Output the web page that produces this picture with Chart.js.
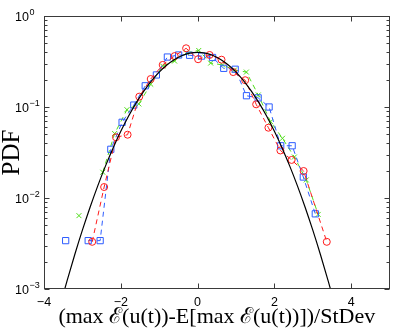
<!DOCTYPE html>
<html>
<head>
<meta charset="utf-8">
<script src="https://cdn.jsdelivr.net/npm/chart.js@4.4.1/dist/chart.umd.min.js"></script>
<style>
  html, body { margin: 0; padding: 0; background: #fff; }
  #wrap { width: 395px; height: 333px; }
</style>
</head>
<body>
<div id="wrap"><canvas id="pdfChart" width="395" height="333"></canvas></div>
<script>
// --- Data ---

const xTicks = [-4, -2, 0, 2, 4];
const xTickLabels = ['\u22124', '\u22122', '0', '2', '4'];
const yTicks = [0.001, 0.01, 0.1, 1];
const yTickExps = ['\u22123', '\u22122', '\u22121', '0'];

// red circles
const redX = [-2.745, -2.434, -2.125, -1.823, -1.519, -1.221, -0.909, -0.597, -0.299, 0.013,
              0.312, 0.623, 0.927, 1.239, 1.525, 1.844, 2.156, 2.449, 2.761, 3.364];
const redY = [0.0033, 0.0132, 0.0465, 0.0496, 0.130, 0.203, 0.290, 0.363, 0.442, 0.335,
              0.373, 0.331, 0.242, 0.197, 0.107, 0.0592, 0.0333, 0.0262, 0.0198, 0.0033];

// blue squares (null = empty bin, line is broken there)
const blueX = [-3.436, -3.14, -2.849, -2.538, -2.260, -1.966, -1.662, -1.364, -1.073, -0.787, -0.494,
               -0.208, 0.104, 0.390, 0.681, 0.979, 1.273, 1.577, 1.862, 2.164, 2.462, 2.753, 3.065];
const blueY = [0.0034, null, 0.0034, 0.0034, 0.0343, 0.0679, 0.105, 0.171, 0.225, 0.354, 0.373,
               0.370, 0.363, 0.350, 0.266, 0.260, 0.133, 0.126, 0.100, 0.0375, 0.0375, 0.0170, 0.0067];

// green crosses
const greenX = [-3.09, -2.78, -2.47, -2.16, -1.84, -1.53, -1.22, -0.91, -0.60, -0.29, 0.03,
                0.34, 0.65, 0.96, 1.27, 1.58, 1.90, 2.21, 2.52, 2.83, 3.14];
const greenY = [0.0064, null, 0.0192, 0.0511, 0.0934, 0.108, 0.178, 0.282, 0.320, 0.395, 0.418,
                0.304, 0.290, 0.255, 0.242, 0.1355, 0.0689, 0.0453, 0.0282, 0.0158, 0.0066];

// black reference curve (standard normal density, sampled)
const normX = [-3.6, -3.4, -3.2, -3.0, -2.8, -2.6, -2.4, -2.2, -2.0, -1.8, -1.6, -1.4, -1.2, -1.0,
               -0.8, -0.6, -0.4, -0.2, 0, 0.2, 0.4, 0.6, 0.8, 1.0, 1.2, 1.4, 1.6, 1.8, 2.0,
               2.2, 2.4, 2.6, 2.8, 3.0, 3.2, 3.4, 3.6];
const normY = [0.000612, 0.00123, 0.00238, 0.00443, 0.00792, 0.0136, 0.0224, 0.0355, 0.0540,
               0.0790, 0.1109, 0.1497, 0.1942, 0.2420, 0.2897, 0.3332, 0.3683, 0.3910, 0.3989,
               0.3910, 0.3683, 0.3332, 0.2897, 0.2420, 0.1942, 0.1497, 0.1109, 0.0790, 0.0540,
               0.0355, 0.0224, 0.0136, 0.00792, 0.00443, 0.00238, 0.00123, 0.000612];

const pts = (xs, ys) => xs.map((x, i) => ({ x: x, y: ys[i] }));

// --- Box, inward ticks and tick labels drawn MATLAB style ---

const frame = {
    id: 'frame',
    afterDraw(chart) {
        const { ctx, chartArea: a, scales: { x, y } } = chart;
        ctx.save();
        ctx.strokeStyle = '#3a3a3a';
        ctx.lineWidth = 1;
        const L = Math.round(a.left) + 0.5, R = Math.round(a.right) - 0.5;
        const T = Math.round(a.top) + 0.5, B = Math.round(a.bottom) - 0.5;
        ctx.strokeRect(L, T, R - L, B - T);

        ctx.beginPath();
        xTicks.forEach(v => {
            const px = Math.round(x.getPixelForValue(v)) + 0.5;
            ctx.moveTo(px, B); ctx.lineTo(px, B - 5);
            ctx.moveTo(px, T); ctx.lineTo(px, T + 5);
        });
        for (let d = -3; d <= 0; d++) {
            for (let k = 1; k <= 9; k++) {
                const v = k * Math.pow(10, d);
                if (v > 1.0001) break;
                const py = Math.round(y.getPixelForValue(v)) + 0.5;
                const len = k === 1 ? 5 : 3;
                ctx.moveTo(L, py); ctx.lineTo(L + len, py);
                ctx.moveTo(R, py); ctx.lineTo(R - len, py);
            }
        }
        ctx.stroke();

        ctx.fillStyle = '#000';
        ctx.font = '12.5px "Liberation Sans", Arial, sans-serif';
        ctx.textAlign = 'center';
        ctx.textBaseline = 'alphabetic';
        xTicks.forEach((v, i) => {
            ctx.fillText(xTickLabels[i], x.getPixelForValue(v), 306);
        });

        ctx.textAlign = 'left';
        yTicks.forEach((v, i) => {
            const py = y.getPixelForValue(v);
            ctx.font = '12.5px "Liberation Sans", Arial, sans-serif';
            ctx.fillText('10', 15, py + 4.5);
            const w = ctx.measureText('10').width;
            ctx.font = '9px "Liberation Sans", Arial, sans-serif';
            ctx.fillText(yTickExps[i], 15 + w + 0.5, py - 1.5);
        });
        ctx.restore();
    }
};

// --- Chart ---

const ctx = document.getElementById('pdfChart').getContext('2d');
new Chart(ctx, {
    type: 'scatter',
    data: {
        datasets: [
            {
                data: pts(normX, normY),
                showLine: true,
                borderColor: '#000',
                borderWidth: 1.2,
                pointRadius: 0,
                cubicInterpolationMode: 'monotone',
            },
            {
                data: pts(redX, redY),
                showLine: true,
                borderColor: '#ff1a1a',
                borderWidth: 1,
                borderDash: [5, 4],
                pointStyle: 'circle',
                pointRadius: 3.5,
                pointBorderWidth: 1,
                pointBackgroundColor: 'rgba(0,0,0,0)',
            },
            {
                data: pts(blueX, blueY),
                showLine: true,
                borderColor: '#2d5cff',
                borderWidth: 1,
                borderDash: [5, 4],
                pointStyle: 'rect',
                pointRadius: 4.4,
                pointBorderWidth: 1,
                pointBackgroundColor: 'rgba(0,0,0,0)',
            },
            {
                data: pts(greenX, greenY),
                showLine: true,
                borderColor: '#4fdc1a',
                borderWidth: 1,
                borderDash: [5, 4],
                pointStyle: 'crossRot',
                pointRadius: 3.5,
                pointBorderWidth: 1,
                pointBackgroundColor: 'rgba(0,0,0,0)',
            },
        ]
    },
    options: {
        responsive: false,
        animation: false,
        devicePixelRatio: 1,
        layout: { padding: { left: 0, right: 5, top: 16, bottom: 0 } },
        plugins: { legend: { display: false }, tooltip: { enabled: false } },
        scales: {
            x: {
                type: 'linear',
                min: -4,
                max: 5,
                grid: { display: false },
                border: { display: false },
                ticks: { display: false },
                title: {
                    display: true,
                    text: '(max \u2130(u(t))-E[max \u2130(u(t))])/StDev',
                    color: '#000',
                    font: { family: '"Liberation Serif", "DejaVu Serif", serif', size: 22, lineHeight: 1.2 },
                    padding: { top: 0, bottom: 2.5 },
                },
                afterFit: (scale) => { scale.height = 44; },
            },
            y: {
                type: 'logarithmic',
                min: 0.001,
                max: 1,
                grid: { display: false },
                border: { display: false },
                ticks: { display: false },
                title: {
                    display: true,
                    text: 'PDF',
                    color: '#000',
                    font: { family: '"Liberation Serif", "DejaVu Serif", serif', size: 25, lineHeight: 1 },
                    padding: { top: 0, bottom: 0 },
                },
                afterFit: (scale) => { scale.width = 44; },
            }
        }
    },
    plugins: [frame]
});
</script>
</body>
</html>
